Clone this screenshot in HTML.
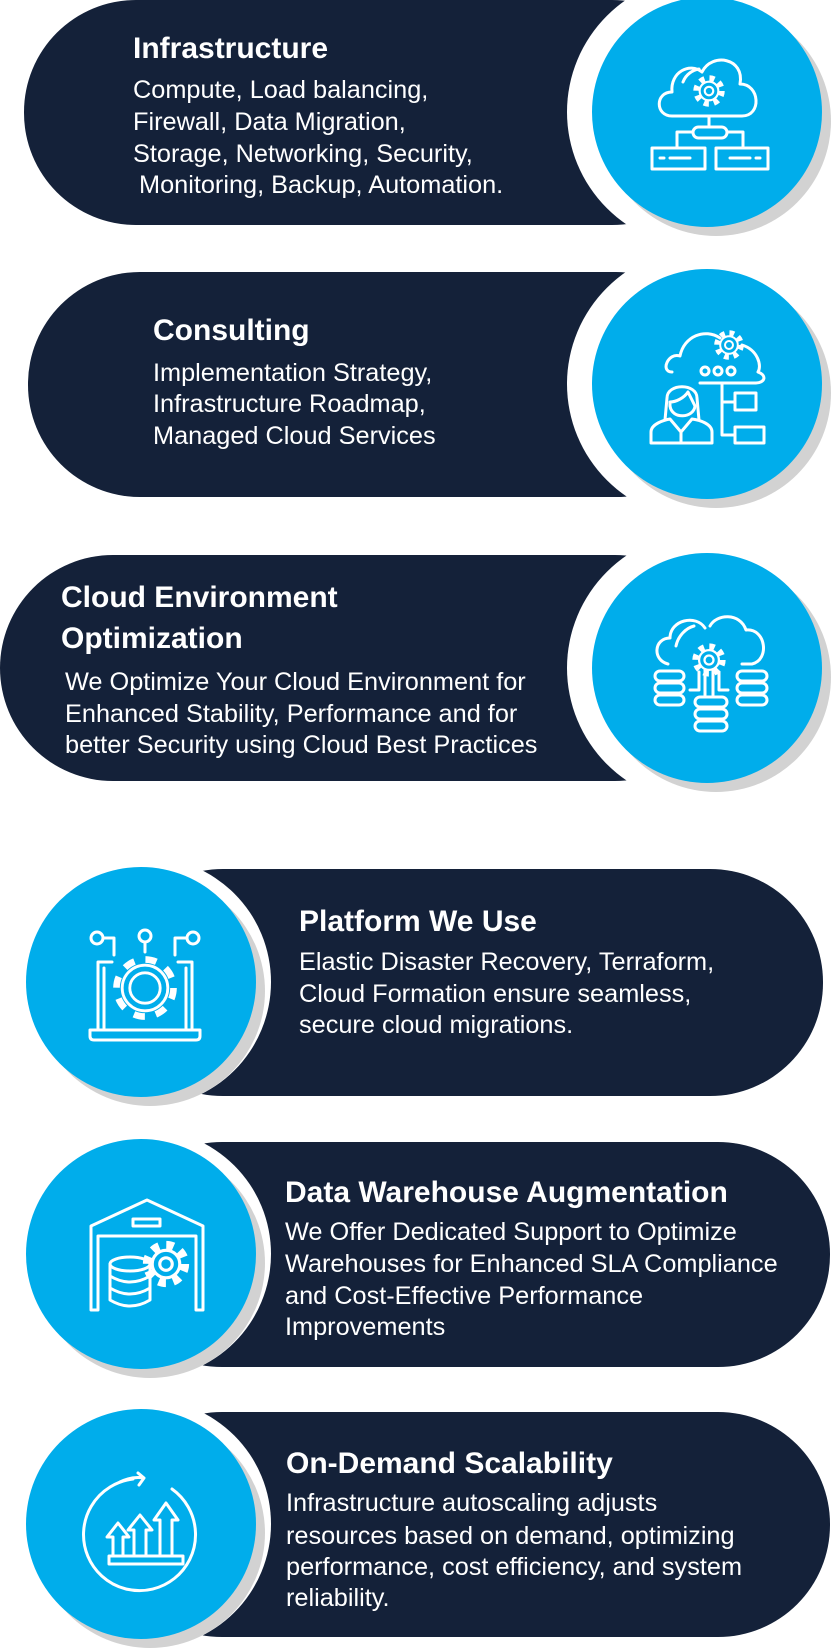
<!DOCTYPE html>
<html><head><meta charset="utf-8"><style>
html,body{margin:0;padding:0;background:#fff;}
svg{display:block;}
.t{font-family:"Liberation Sans",Arial,sans-serif;font-weight:bold;font-size:30px;fill:#fff;}
.b{font-family:"Liberation Sans",Arial,sans-serif;font-size:25.3px;fill:#fff;}
.ic{fill:none;stroke:#fff;stroke-width:3;stroke-linecap:round;stroke-linejoin:round;}
</style></head><body>
<svg width="831" height="1650" viewBox="0 0 831 1650" xmlns="http://www.w3.org/2000/svg">
<defs>
<g id="gear">
<circle r="15" fill="none" stroke="#fff" stroke-width="7" stroke-dasharray="5.9 5.9"/>
<circle r="11" fill="#00adeb" stroke="#fff" stroke-width="2.5"/>
<circle r="5" fill="none" stroke="#fff" stroke-width="2.5"/>
</g>
</defs>

<!-- Card 1 -->
<rect x="24" y="0" width="700" height="225" rx="112" fill="#142139"/>
<circle cx="703" cy="112" r="136" fill="#fff"/>
<circle cx="716" cy="121" r="115" fill="#d2d2d2"/>
<circle cx="707" cy="112" r="115" fill="#00adeb"/>
<g class="ic">
<path d="M672 116 C655 116 655 92 672 92 C670 72 690 62 702 72 C712 52 745 58 740 84 C760 84 762 116 742 116 Z"/>
<path d="M683 82 C686 74 693 70 699 69"/>
<line x1="709" y1="116" x2="709" y2="127"/>
<rect x="693" y="127" width="34" height="11" rx="5.5"/>
<path d="M693 132 H677 V148 M727 132 H743 V148"/>
<rect x="652" y="148" width="53" height="21"/>
<rect x="716" y="148" width="52" height="21"/>
<path d="M660 158 h4 M670 158 h20 M730 158 h20 M756 158 h4"/>
</g>
<use href="#gear" transform="translate(709 91) scale(0.85)"/>
<text class="t" x="133" y="58">Infrastructure</text>
<text class="b" x="133" y="98">Compute, Load balancing,</text>
<text class="b" x="133" y="130">Firewall, Data Migration,</text>
<text class="b" x="133" y="162">Storage, Networking, Security,</text>
<text class="b" x="139" y="193">Monitoring, Backup, Automation.</text>

<!-- Card 2 -->
<rect x="28" y="272" width="700" height="225" rx="112" fill="#142139"/>
<circle cx="703" cy="384" r="136" fill="#fff"/>
<circle cx="716" cy="393" r="115" fill="#d2d2d2"/>
<circle cx="707" cy="384" r="115" fill="#00adeb"/>
<g class="ic">
<path d="M672 372 C660 372 668 352 680 356 C684 336 705 328 720 338 M742 345 C758 350 762 366 758 372 C768 376 764 383 756 383 H700"/>
<circle cx="705" cy="371" r="4"/><circle cx="718" cy="371" r="4"/><circle cx="731" cy="371" r="4"/>
<path d="M722 383 V402 H735 M722 402 V435 H735"/>
<rect x="735" y="393" width="21" height="17"/>
<rect x="735" y="427" width="29" height="16"/>
<path d="M667 398 C667 383 697 383 697 398 L699 420 M667 398 L665 420"/>
<path d="M670 402 C676 402 684 398 688 392 C692 400 694 404 695 406 C694 418 672 420 670 406 Z"/>
<path d="M651 443 V432 C651 424 664 420 670 419 L681 432 L692 419 C700 420 712 424 712 432 V443 Z M681 432 V443"/>
</g>
<use href="#gear" transform="translate(729 345) scale(0.8)"/>
<text class="t" x="153" y="340">Consulting</text>
<text class="b" x="153" y="381">Implementation Strategy,</text>
<text class="b" x="153" y="412">Infrastructure Roadmap,</text>
<text class="b" x="153" y="444">Managed Cloud Services</text>

<!-- Card 3 -->
<rect x="0" y="555" width="728" height="226" rx="113" fill="#142139"/>
<circle cx="703" cy="668" r="136" fill="#fff"/>
<circle cx="716" cy="677" r="115" fill="#d2d2d2"/>
<circle cx="707" cy="668" r="115" fill="#00adeb"/>
<g class="ic">
<path d="M668 664 C652 660 654 638 670 638 C670 620 696 614 705 628 M710 626 C716 614 740 612 746 630 C766 628 770 660 752 664 H742"/>
<path d="M676 646 C678 636 686 628 694 626"/>
<path d="M700 664 C700 650 718 650 718 664"/>
<circle cx="709" cy="660" r="4"/>
<rect x="655" y="671" width="29" height="10" rx="5"/><rect x="655" y="683" width="29" height="10" rx="5"/><rect x="655" y="695" width="29" height="10" rx="5"/>
<rect x="737" y="671" width="30" height="10" rx="5"/><rect x="737" y="683" width="30" height="10" rx="5"/><rect x="737" y="695" width="30" height="10" rx="5"/>
<rect x="695" y="697" width="32" height="10" rx="5"/><rect x="695" y="709" width="32" height="10" rx="5"/><rect x="695" y="721" width="32" height="10" rx="5"/>
<path d="M705 665 V697 M713 665 V697 M699 672 V690 H690 M719 672 V690 H728"/>
</g>
<use href="#gear" transform="translate(709 660) scale(0.9)"/>
<text class="t" x="61" y="607">Cloud Environment</text>
<text class="t" x="61" y="648">Optimization</text>
<text class="b" x="65" y="690">We Optimize Your Cloud Environment for</text>
<text class="b" x="65" y="722">Enhanced Stability, Performance and for</text>
<text class="b" x="65" y="753">better Security using Cloud Best Practices</text>

<!-- Card 4 -->
<rect x="110" y="869" width="713" height="227" rx="113" fill="#142139"/>
<circle cx="146" cy="982" r="125" fill="#fff"/>
<circle cx="150" cy="991" r="115" fill="#d2d2d2"/>
<circle cx="141" cy="982" r="115" fill="#00adeb"/>
<g class="ic">
<circle cx="97" cy="938" r="6"/><circle cx="145" cy="936" r="6"/><circle cx="193" cy="938" r="6"/>
<path d="M103 938 H114 V955 M145 942 V952 M187 938 H175 V955"/>
<path d="M112 962 H98 V1030 M178 962 H192 V1030 M104 968 V1030 H186 V968"/>
<path d="M90 1030 H200 V1036 Q200 1040 196 1040 H94 Q90 1040 90 1036 Z"/>
</g>
<g transform="translate(145 988) scale(1.9)">
<circle r="15" fill="none" stroke="#fff" stroke-width="3.5" stroke-dasharray="5.9 5.9"/>
<circle r="12" fill="#00adeb" stroke="#fff" stroke-width="1.5"/>
<circle r="8" fill="none" stroke="#fff" stroke-width="1.5"/>
</g>
<text class="t" x="299" y="931">Platform We Use</text>
<text class="b" x="299" y="970">Elastic Disaster Recovery, Terraform,</text>
<text class="b" x="299" y="1002">Cloud Formation ensure seamless,</text>
<text class="b" x="299" y="1033">secure cloud migrations.</text>

<!-- Card 5 -->
<rect x="110" y="1142" width="720" height="225" rx="112" fill="#142139"/>
<circle cx="146" cy="1254" r="125" fill="#fff"/>
<circle cx="150" cy="1263" r="115" fill="#d2d2d2"/>
<circle cx="141" cy="1254" r="115" fill="#00adeb"/>
<g class="ic">
<path d="M91 1310 V1226 L147 1200 L203 1226 V1310 H196 V1236 H98 V1310 Z"/>
<rect x="133" y="1219" width="27" height="7"/>
<ellipse cx="130" cy="1264" rx="20" ry="7"/>
<path d="M110 1264 V1300 Q130 1312 150 1300 V1264 M110 1276 Q130 1288 150 1276 M110 1288 Q130 1300 150 1288"/>
</g>
<use href="#gear" transform="translate(166 1264) scale(1.25)"/>
<text class="t" x="285" y="1202">Data Warehouse Augmentation</text>
<text class="b" x="285" y="1240">We Offer Dedicated Support to Optimize</text>
<text class="b" x="285" y="1272">Warehouses for Enhanced SLA Compliance</text>
<text class="b" x="285" y="1304">and Cost-Effective Performance</text>
<text class="b" x="285" y="1335">Improvements</text>

<!-- Card 6 -->
<rect x="110" y="1412" width="720" height="225" rx="112" fill="#142139"/>
<circle cx="146" cy="1524" r="125" fill="#fff"/>
<circle cx="150" cy="1533" r="115" fill="#d2d2d2"/>
<circle cx="141" cy="1524" r="115" fill="#00adeb"/>
<g class="ic">
<path d="M133 1479 A56 56 0 1 0 172 1489"/>
<path d="M120 1482 Q132 1476 144 1478 M138 1473 L144 1478 L139 1485"/>
<rect x="109" y="1556" width="74" height="8"/>
<path d="M113 1556 V1537 H107 L118 1523 L129 1537 H123 V1556"/>
<path d="M134 1556 V1530 H128 L140 1515 L152 1530 H146 V1556"/>
<path d="M160 1556 V1520 H154 L166 1503 L178 1520 H172 V1556"/>
</g>
<text class="t" x="286" y="1473">On-Demand Scalability</text>
<text class="b" x="286" y="1511">Infrastructure autoscaling adjusts</text>
<text class="b" x="286" y="1544">resources based on demand, optimizing</text>
<text class="b" x="286" y="1575">performance, cost efficiency, and system</text>
<text class="b" x="286" y="1606">reliability.</text>
</svg>
</body></html>
